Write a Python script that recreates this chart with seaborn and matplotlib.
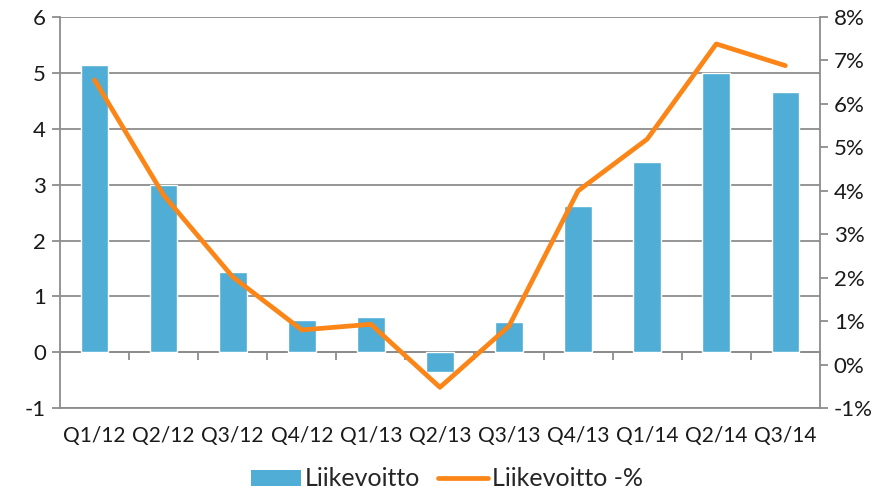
import matplotlib
matplotlib.use("Agg")
import matplotlib.pyplot as plt
import seaborn as sns
import pandas as pd
from matplotlib.ticker import FuncFormatter, NullFormatter
from matplotlib.patches import Patch
from matplotlib.lines import Line2D

categories = ["Q1/12", "Q2/12", "Q3/12", "Q4/12", "Q1/13", "Q2/13",
              "Q3/13", "Q4/13", "Q1/14", "Q2/14", "Q3/14"]
liikevoitto = [5.14, 2.99, 1.43, 0.57, 0.64, -0.36, 0.55, 2.61, 3.40, 4.99, 4.65]
liikevoitto_pct = [6.55, 3.90, 2.02, 0.80, 0.93, -0.52, 0.89, 4.00, 5.19, 7.38, 6.88]
left_ticks = [-1, 0, 1, 2, 3, 4, 5, 6]
right_ticks = [-1, 0, 1, 2, 3, 4, 5, 6, 7, 8]

sns.set_theme(style="white")
plt.rcParams['font.family'] = ['Lato', 'DejaVu Sans']
plt.rcParams['axes.unicode_minus'] = False

bar_color = "#4FADD6"
line_color = "#FB8517"
grid_color = "#8C8C8C"
fs = 15
lfs = 18

df = pd.DataFrame({"q": categories, "v": liikevoitto, "p": liikevoitto_pct})

fig = plt.figure(figsize=(8.94, 4.99), dpi=100)
ax = fig.add_axes([0.0671, 0.182, 0.850, 0.784])

sns.barplot(data=df, x="q", y="v", color=bar_color, width=0.40,
            saturation=1, ax=ax, zorder=3)
ax.set_ylim(-1, 6)
ax.set_xlim(-0.5, len(categories) - 0.5)
ax.set_yticks(left_ticks)
ax.yaxis.grid(True, color=grid_color, lw=1.3, zorder=0)
ax.set_axisbelow(True)
ax.set_xlabel("")
ax.set_ylabel("")
for s in ["top", "right"]:
    ax.spines[s].set_visible(False)
ax.spines["left"].set_color(grid_color)
ax.spines["left"].set_linewidth(1.3)
ax.spines["bottom"].set_color(grid_color)
ax.spines["bottom"].set_linewidth(1.3)
ax.tick_params(axis="y", length=6, width=1.3, color=grid_color, labelsize=fs + 1,
               labelcolor="#1a1a1a", pad=4, left=True)
ax.tick_params(axis="x", length=0, labelsize=fs, labelcolor="#1a1a1a", pad=13)

# zero axis line with category boundary ticks
sec = ax.secondary_xaxis(1 / 7)
sec.set_xticks([i + 0.5 for i in range(-1, len(categories))])
sec.xaxis.set_major_formatter(NullFormatter())
sec.tick_params(axis="x", length=6, width=1.3, color=grid_color, direction="out")
sec.spines["bottom"].set_color(grid_color)
sec.spines["bottom"].set_linewidth(1.3)

ax2 = ax.twinx()
sns.lineplot(data=df, x="q", y="p", color=line_color, lw=3.4, sort=False,
             ax=ax2, zorder=4)
ax2.set_ylim(-1, 8)
ax2.set_yticks(right_ticks)
ax2.yaxis.set_major_formatter(FuncFormatter(lambda v, _: f"{int(v)}%"))
ax2.set_ylabel("")
ax2.set_xlabel("")
for s in ["top", "left", "bottom"]:
    ax2.spines[s].set_visible(False)
ax2.spines["right"].set_color(grid_color)
ax2.spines["right"].set_linewidth(1.3)
ax2.tick_params(axis="y", length=6, width=1.3, color=grid_color, labelsize=fs + 1,
                labelcolor="#1a1a1a", pad=4, right=True)
ax2.grid(False)

handles = [Patch(facecolor=bar_color, edgecolor="none"),
           Line2D([0], [0], color=line_color, lw=3.4)]
fig.legend(handles, ["Liikevoitto", "Liikevoitto -%"], loc="lower center",
           bbox_to_anchor=(0.5, -0.028), ncol=2, frameon=False, fontsize=lfs,
           handlelength=2.0, handleheight=0.6, handletextpad=0.15,
           columnspacing=0.7)

fig.savefig("out.png", dpi=100)
